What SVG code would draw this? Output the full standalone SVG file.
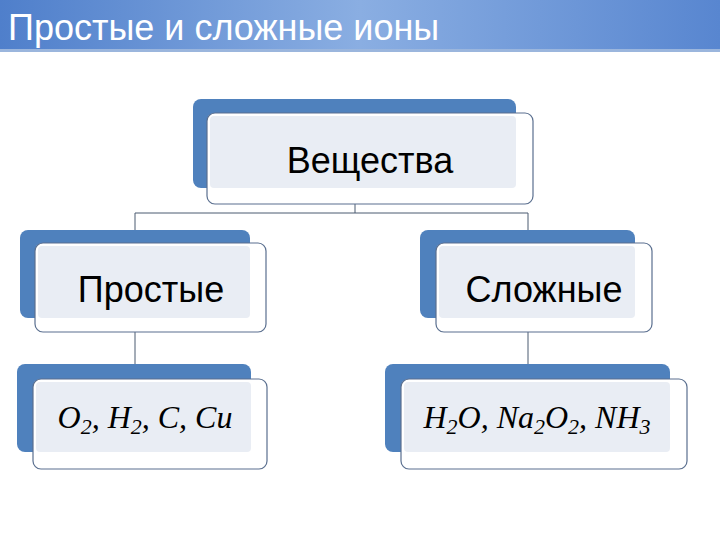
<svg xmlns="http://www.w3.org/2000/svg" width="720" height="540" viewBox="0 0 720 540">
<defs>
<linearGradient id="hdr" x1="0" y1="0" x2="1" y2="0">
<stop offset="0" stop-color="#4f7fcb"/><stop offset="0.5" stop-color="#8aaee2"/><stop offset="1" stop-color="#5886d0"/>
</linearGradient>
<style>
.back{fill:#4f81bd}
.front{fill:#ffffff;stroke:#5a6f8f;stroke-width:1.2}
.inner{fill:#e9edf4}
.lbl{font-family:"Liberation Sans",Arial,sans-serif;font-size:36px;fill:#000;text-anchor:middle}
.math{font-family:"Liberation Serif","DejaVu Serif",serif;font-style:italic;font-size:32px;fill:#000;text-anchor:middle}
.conn{stroke:#4a5a70;stroke-width:1;fill:none}
</style>
</defs>
<rect x="0" y="0" width="720" height="50" fill="url(#hdr)"/>
<rect x="0" y="49" width="720" height="3" fill="#9bb6dd"/>
<text x="8" y="40" font-family="'Liberation Sans',Arial,sans-serif" font-size="36" fill="#fff">Простые и сложные ионы</text>
<g id="connectors">
<path class="conn" d="M355 190V213M135 213H528M135 213V243M528 213V243M135 318V379M528 318V379"/>
</g>
<g id="n-veshchestva">
<rect class="back" x="193" y="99" width="323" height="89" rx="8"/>
<rect class="front" x="207" y="113" width="326" height="91" rx="8"/>
<rect class="inner" x="210" y="116" width="306" height="72" rx="4"/>
<text class="lbl" x="370" y="173">Вещества</text>
</g>
<g id="n-prostye">
<rect class="back" x="20" y="230" width="230" height="88" rx="8"/>
<rect class="front" x="35" y="243" width="231" height="89" rx="8"/>
<rect class="inner" x="38" y="246" width="212" height="72" rx="4"/>
<text class="lbl" x="151" y="302">Простые</text>
</g>
<g id="n-slozhnye">
<rect class="back" x="420" y="230" width="215" height="88" rx="8"/>
<rect class="front" x="436" y="243" width="216" height="89" rx="8"/>
<rect class="inner" x="439" y="246" width="196" height="72" rx="4"/>
<text class="lbl" x="544" y="302">Сложные</text>
</g>
<g id="n-simple-ex">
<rect class="back" x="17" y="364" width="234" height="88" rx="8"/>
<rect class="front" x="33" y="379" width="234" height="90" rx="8"/>
<rect class="inner" x="36" y="382" width="215" height="70" rx="4"/>
<text class="math" x="145" y="428">O<tspan font-size="22" dy="6">2</tspan><tspan dy="-6">, H</tspan><tspan font-size="22" dy="6">2</tspan><tspan dy="-6">, C, Cu</tspan></text>
</g>
<g id="n-complex-ex">
<rect class="back" x="385" y="364" width="285" height="88" rx="8"/>
<rect class="front" x="401" y="379" width="286" height="90" rx="8"/>
<rect class="inner" x="404" y="382" width="266" height="70" rx="4"/>
<text class="math" x="537" y="428">H<tspan font-size="22" dy="6">2</tspan><tspan dy="-6">O, Na</tspan><tspan font-size="22" dy="6">2</tspan><tspan dy="-6">O</tspan><tspan font-size="22" dy="6">2</tspan><tspan dy="-6">, NH</tspan><tspan font-size="22" dy="6">3</tspan></text>
</g>
</svg>
